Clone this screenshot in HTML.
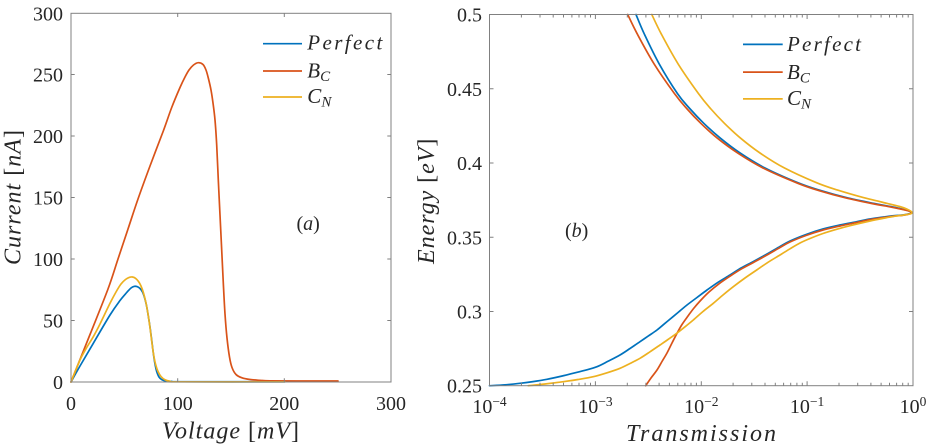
<!DOCTYPE html>
<html><head><meta charset="utf-8"><style>
html,body{margin:0;padding:0;background:#fff;}
svg{display:block;}
svg text{font-family:"Liberation Serif","DejaVu Serif","Times New Roman",serif;fill:#262626;}
</style></head><body>
<svg id="fig" width="931" height="448" viewBox="0 0 931 448" xmlns="http://www.w3.org/2000/svg" font-family="'Liberation Serif','DejaVu Serif',serif">
<rect width="931" height="448" fill="#fff"/>

<!-- ===== LEFT PANEL ===== -->
<g fill="none" stroke-width="1.7" stroke-linejoin="round" stroke-linecap="round">
<polyline class="s" stroke="#0072BD" points="71,382 80,366 93.3,343.3 110,315 120,300.5 126.7,292.5 131,288 134,286.4 137,286.6 140,288.5 142.5,292 144.5,297.5 146.5,305.5 148.3,316 150,327 151.7,340 153.3,353 155,364 156.7,371.5 159,377 162,379.8 166,381 172,381.5 180,381.7 285,381.8"/>
<polyline class="s" stroke="#D95319" points="71,382 90,334.5 108,289 118,259 128,229 138,199 150,166 163.3,131 171.7,107.5 180,87.5 185,77 189,70 193.5,65 198.3,62.7 203,64.5 206,70 208.3,78 211,90 213,103 215,120 216.7,145 218.3,180 220,215 221.7,250 223.3,283 225,314 227,338 229.5,357 232,367.5 236,374.5 242,377.8 250,379.5 260,380.3 270,380.8 300,381 338,381"/>
<polyline class="s" stroke="#EDB120" points="71,382 80,360 87,347 93.3,336.7 100,324 110,303.3 116,292 121,284 125.5,279.5 129.5,277.3 132.5,277 135.5,278.3 138.5,281.5 141,286 143.5,293 146,303 148,314 150,327.5 151.7,341 153.5,354 155.5,364 158,371.5 161,376.5 165,379.8 170,381.2 178,381.8 285,381.8"/>
</g>
<rect x="71" y="13.3" width="320" height="368.7" fill="none" stroke="#808080" stroke-width="1"/>
<path stroke="#808080" stroke-width="1" fill="none" d="
M71 320.5h3.7M71 259h3.7M71 197.5h3.7M71 136h3.7M71 74.5h3.7
M391 320.5h-3.7M391 259h-3.7M391 197.5h-3.7M391 136h-3.7M391 74.5h-3.7
M177.7 382v-3.7M284.3 382v-3.7M177.7 13.3v3.7M284.3 13.3v3.7"/>
<g font-size="20" text-anchor="end">
<text x="63" y="389">0</text>
<text x="63" y="327.5">50</text>
<text x="63" y="266">100</text>
<text x="63" y="204.5">150</text>
<text x="63" y="143">200</text>
<text x="63" y="81.5">250</text>
<text x="63" y="20.3">300</text>
</g>
<g font-size="20" text-anchor="middle">
<text x="71" y="410">0</text>
<text x="177.7" y="410">100</text>
<text x="284.3" y="410">200</text>
<text x="391" y="410">300</text>
</g>
<text x="162" y="438.5" font-size="24" font-style="italic" textLength="137" lengthAdjust="spacing">Voltage <tspan font-style="normal">[</tspan>mV<tspan font-style="normal">]</tspan></text>
<text transform="translate(20.5,197.5) rotate(-90)" text-anchor="middle" font-size="24" font-style="italic" textLength="135" lengthAdjust="spacing">Current <tspan font-style="normal">[</tspan>nA<tspan font-style="normal">]</tspan></text>
<text x="296.5" y="230" font-size="20"><tspan>(</tspan><tspan font-style="italic">a</tspan><tspan>)</tspan></text>
<!-- legend left -->
<g stroke-width="1.7">
<line x1="263" y1="43.7" x2="302" y2="43.7" stroke="#0072BD"/>
<line x1="263" y1="71" x2="302" y2="71" stroke="#D95319"/>
<line x1="263" y1="97" x2="302" y2="97" stroke="#EDB120"/>
</g>
<text x="307.3" y="49.5" font-size="21" font-style="italic" textLength="75" lengthAdjust="spacing">Perfect</text>
<text x="307.3" y="77.3" font-size="21" font-style="italic">B<tspan font-size="15" dy="3.5">C</tspan></text>
<text x="307.3" y="102.8" font-size="21" font-style="italic">C<tspan font-size="15" dy="3.5">N</tspan></text>

<!-- ===== RIGHT PANEL ===== -->
<g fill="none" stroke-width="1.7" stroke-linejoin="round" stroke-linecap="round">
<polyline class="s" stroke="#0072BD" points="636,14.5 644.4,34.2 659.2,63.9 677.5,93.6 689.7,108.5 703.8,123.3 720.4,138.2 740.1,153 764.8,167.9 797.8,182.7 819.2,190.1 846.4,197.6 874.2,203.5 890.2,206.5 903.5,209.4 910,211.3 912,212.5 910,213.6 903,215 895,215.6 885,216.8 870,219 856.7,221.7 840,225 823,229 806,234.5 790,241 780,246.5 767,254 753,261.7 741,268 730,275 718,282.3 707,290 697,297.5 687,305 680,310.8 673,316.7 665,323.3 657,330 648,336.2 640,341.7 630,348.5 620,355 608,361.3 597,366.7 585,370.3 573,373.3 560,376.5 547,379.3 533,381.6 520,383.3 505,384.8 489.5,385.7"/>
<polyline class="s" stroke="#D95319" points="627.7,14.5 637.4,34.2 654.1,63.9 674.5,93.6 686.7,108.5 700.8,123.3 717.4,138.2 738.1,153.3 763.8,168.4 797.8,183.3 819.2,190.7 846.4,198.1 874.2,204 890.2,206.9 903.5,209.7 910,211.4 912,212.5 910,213.8 903,215.3 895,216 885,217.3 870,219.6 856.7,222.5 840,226 823,230 806,235.5 790,242 780,247.5 767,255 753,262.7 741,269.2 730,276.2 719,283.8 709,292 701,300 694,308 688,316 682,324.5 677,333.3 672,343 667,353 662,361.5 657,370 651,378 645.7,385.7"/>
<polyline class="s" stroke="#EDB120" points="651.8,14.5 661.4,34.2 678.1,63.9 698.5,93.6 710.5,108.5 724.4,123.3 740.6,138.2 760,153 784.3,167.9 816.5,182.7 837.6,190.1 863.4,197.6 881.4,202 899.6,206.5 907.5,209.4 911,211.3 912.3,212.6 910.5,213.8 904,215 895,216.2 885,218 870,221 850,225.7 837,229.2 823,233.5 810,238.5 800,243 790,248.8 780,255 768,262.3 756.7,270 745,278 733.3,286.7 723,295 713.3,303.3 703,311.5 693.3,320 685,326.8 676.7,333.3 668,339.5 660,345 650,351.8 640,358.3 630,363.5 620,368.3 607,372.8 593.3,376.7 578,379.5 563.3,381.7 545,384 528.3,385.7"/>
</g>
<rect x="489.5" y="14.5" width="423.5" height="371.2" fill="none" stroke="#808080" stroke-width="1"/>
<path stroke="#808080" stroke-width="1" fill="none" d="
M489.5 311.5h4M489.5 237.3h4M489.5 163h4M489.5 88.8h4
M913 311.5h-4M913 237.3h-4M913 163h-4M913 88.8h-4
M595.4 385.7v-4.5M701.3 385.7v-4.5M807.1 385.7v-4.5
M595.4 14.5v4.5M701.3 14.5v4.5M807.1 14.5v4.5
M521.4 385.7v-3M540 385.7v-3M553.2 385.7v-3M563.5 385.7v-3M571.9 385.7v-3M579 385.7v-3M585.1 385.7v-3M590.5 385.7v-3
M627.3 385.7v-3M645.9 385.7v-3M659.1 385.7v-3M669.4 385.7v-3M677.8 385.7v-3M684.9 385.7v-3M691 385.7v-3M696.4 385.7v-3
M733.1 385.7v-3M751.8 385.7v-3M765 385.7v-3M775.3 385.7v-3M783.6 385.7v-3M790.7 385.7v-3M796.9 385.7v-3M802.3 385.7v-3
M839 385.7v-3M857.7 385.7v-3M870.9 385.7v-3M881.1 385.7v-3M889.5 385.7v-3M896.6 385.7v-3M902.7 385.7v-3M908.2 385.7v-3
M521.4 14.5v3M540 14.5v3M553.2 14.5v3M563.5 14.5v3M571.9 14.5v3M579 14.5v3M585.1 14.5v3M590.5 14.5v3
M627.3 14.5v3M645.9 14.5v3M659.1 14.5v3M669.4 14.5v3M677.8 14.5v3M684.9 14.5v3M691 14.5v3M696.4 14.5v3
M733.1 14.5v3M751.8 14.5v3M765 14.5v3M775.3 14.5v3M783.6 14.5v3M790.7 14.5v3M796.9 14.5v3M802.3 14.5v3
M839 14.5v3M857.7 14.5v3M870.9 14.5v3M881.1 14.5v3M889.5 14.5v3M896.6 14.5v3M902.7 14.5v3M908.2 14.5v3"/>
<g font-size="20" text-anchor="end">
<text x="482" y="392.7">0.25</text>
<text x="482" y="318.5">0.3</text>
<text x="482" y="244.3">0.35</text>
<text x="482" y="170">0.4</text>
<text x="482" y="95.8">0.45</text>
<text x="482" y="21.5">0.5</text>
</g>
<g font-size="20" text-anchor="middle">
<text x="489.5" y="413">10<tspan font-size="13.5" dy="-7">−4</tspan></text>
<text x="595.4" y="413">10<tspan font-size="13.5" dy="-7">−3</tspan></text>
<text x="701.3" y="413">10<tspan font-size="13.5" dy="-7">−2</tspan></text>
<text x="807.1" y="413">10<tspan font-size="13.5" dy="-7">−1</tspan></text>
<text x="913" y="413">10<tspan font-size="13.5" dy="-7">0</tspan></text>
</g>
<text x="626" y="441" font-size="24" font-style="italic" textLength="150" lengthAdjust="spacing">Transmission</text>
<text transform="translate(434,201.3) rotate(-90)" text-anchor="middle" font-size="24" font-style="italic" textLength="125.4" lengthAdjust="spacing">Energy <tspan font-style="normal">[</tspan>eV<tspan font-style="normal">]</tspan></text>
<text x="565" y="237" font-size="20"><tspan>(</tspan><tspan font-style="italic">b</tspan><tspan>)</tspan></text>
<!-- legend right -->
<g stroke-width="1.7">
<line x1="743" y1="44.4" x2="782.7" y2="44.4" stroke="#0072BD"/>
<line x1="743" y1="72.1" x2="782.7" y2="72.1" stroke="#D95319"/>
<line x1="743" y1="98.9" x2="782.7" y2="98.9" stroke="#EDB120"/>
</g>
<text x="787" y="50.8" font-size="21" font-style="italic" textLength="74" lengthAdjust="spacing">Perfect</text>
<text x="787" y="78.8" font-size="21" font-style="italic">B<tspan font-size="15" dy="3.5">C</tspan></text>
<text x="787" y="105" font-size="21" font-style="italic">C<tspan font-size="15" dy="3.5">N</tspan></text>
</svg>
<script>
(function(){
  var NS="http://www.w3.org/2000/svg";
  var pls=document.querySelectorAll("polyline.s");
  for(var k=0;k<pls.length;k++){
    var pl=pls[k];
    var raw=pl.getAttribute("points").trim().split(/\s+/);
    var p=[];
    for(var i=0;i<raw.length;i++){var c=raw[i].split(",");p.push([parseFloat(c[0]),parseFloat(c[1])]);}
    if(p.length<3) continue;
    var d="M"+p[0][0]+" "+p[0][1];
    for(var i=0;i<p.length-1;i++){
      var p0=p[i>0?i-1:i],p1=p[i],p2=p[i+1],p3=p[i+2<p.length?i+2:i+1];
      var c1x=p1[0]+(p2[0]-p0[0])/6,c1y=p1[1]+(p2[1]-p0[1])/6;
      var c2x=p2[0]-(p3[0]-p1[0])/6,c2y=p2[1]-(p3[1]-p1[1])/6;
      d+="C"+c1x.toFixed(2)+" "+c1y.toFixed(2)+" "+c2x.toFixed(2)+" "+c2y.toFixed(2)+" "+p2[0]+" "+p2[1];
    }
    var path=document.createElementNS(NS,"path");
    path.setAttribute("d",d);
    path.setAttribute("stroke",pl.getAttribute("stroke"));
    pl.parentNode.replaceChild(path,pl);
  }
})();
</script>
</body></html>
